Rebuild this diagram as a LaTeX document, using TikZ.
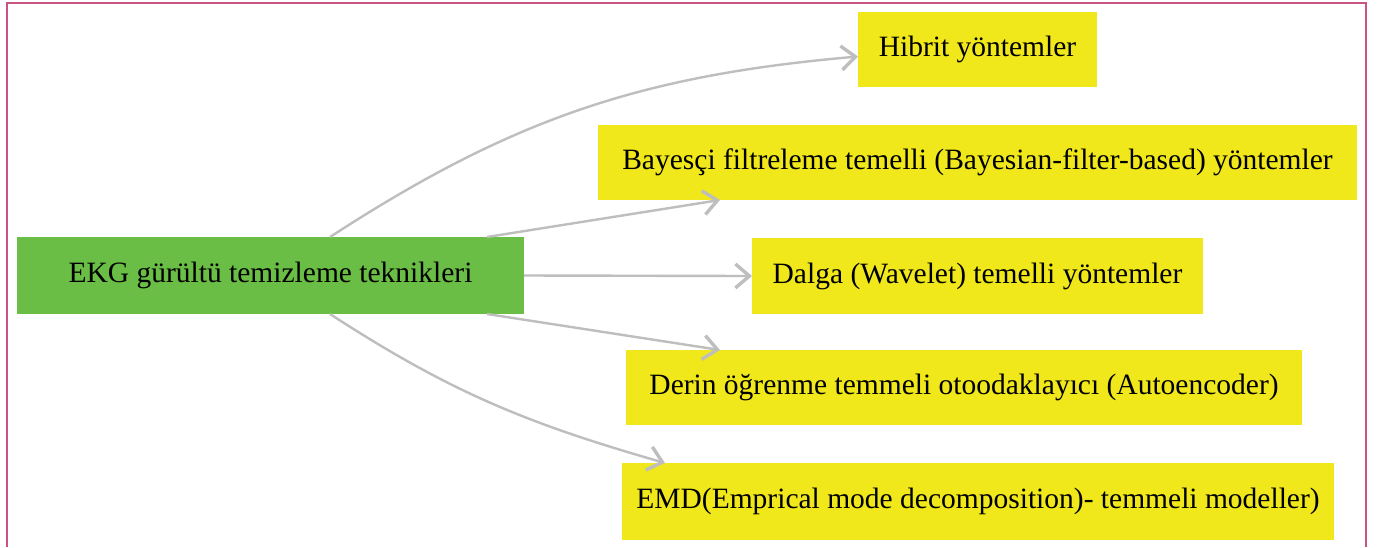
\documentclass[tikz,border=0pt]{standalone}
\usepackage{fontspec}
\setmainfont{Liberation Serif}
\usetikzlibrary{arrows.meta}
\definecolor{framepink}{RGB}{200,84,132}
\definecolor{rootgreen}{RGB}{106,190,69}
\definecolor{leafyellow}{RGB}{240,232,26}
\definecolor{linkgray}{RGB}{190,190,190}
\begin{document}
\begin{tikzpicture}[x=1pt,y=-1pt,
  box/.style={inner sep=0pt, outer sep=0pt, align=center,
    font=\fontsize{29.5}{34}\selectfont, text=black},
  rootbox/.style={box, fill=rootgreen},
  leafbox/.style={box, fill=leafyellow},
  link/.style={draw=linkgray, line width=2.4pt,
    -{Straight Barb[length=14pt,width=24pt,line width=3.4pt]}}]
\useasboundingbox (0,0) rectangle (1379,547);
\fill[white] (0,0) rectangle (1379,547);
% outer frame, open at the bottom
\draw[framepink, line width=1.6pt] (7,547) -- (7,3) -- (1366,3) -- (1366,547);

\node[rootbox, minimum width=507pt, minimum height=77pt] (g) at (270.5,275.5)
  {\raisebox{-2pt}{EKG gürültü temizleme teknikleri}};
\node[leafbox, minimum width=239pt, minimum height=75pt] (h) at (977.5,49.5)
  {\raisebox{-2pt}{Hibrit yöntemler}};
\node[leafbox, minimum width=759pt, minimum height=75pt] (b) at (977.5,162.5)
  {\raisebox{-2pt}{Bayesçi filtreleme temelli (Bayesian-filter-based) yöntemler}};
\node[leafbox, minimum width=451pt, minimum height=76pt] (d) at (977.5,276)
  {\raisebox{-2pt}{Dalga (Wavelet) temelli yöntemler}};
\node[leafbox, minimum width=676pt, minimum height=75pt] (r) at (964,387.5)
  {\raisebox{-2pt}{Derin öğrenme temmeli otoodaklayıcı (Autoencoder)}};
\node[leafbox, minimum width=712pt, minimum height=77pt] (e) at (978,501.5)
  {\raisebox{-2pt}{EMD(Emprical mode decomposition)- temmeli modeller)}};

\draw[link] ([xshift=313pt]g.north west) to[out=33,in=185] ([yshift=-7pt]h.west);
\draw[link] ([xshift=470pt]g.north west) -- ([xshift=122pt]b.south west);
\draw[link] (g.east) -- (d.west);
\draw[link] ([xshift=470pt]g.south west) -- ([xshift=94pt]r.north west);
\draw[link] ([xshift=313pt]g.south west) to[out=-33,in=164] ([xshift=43pt]e.north west);
\end{tikzpicture}
\end{document}
